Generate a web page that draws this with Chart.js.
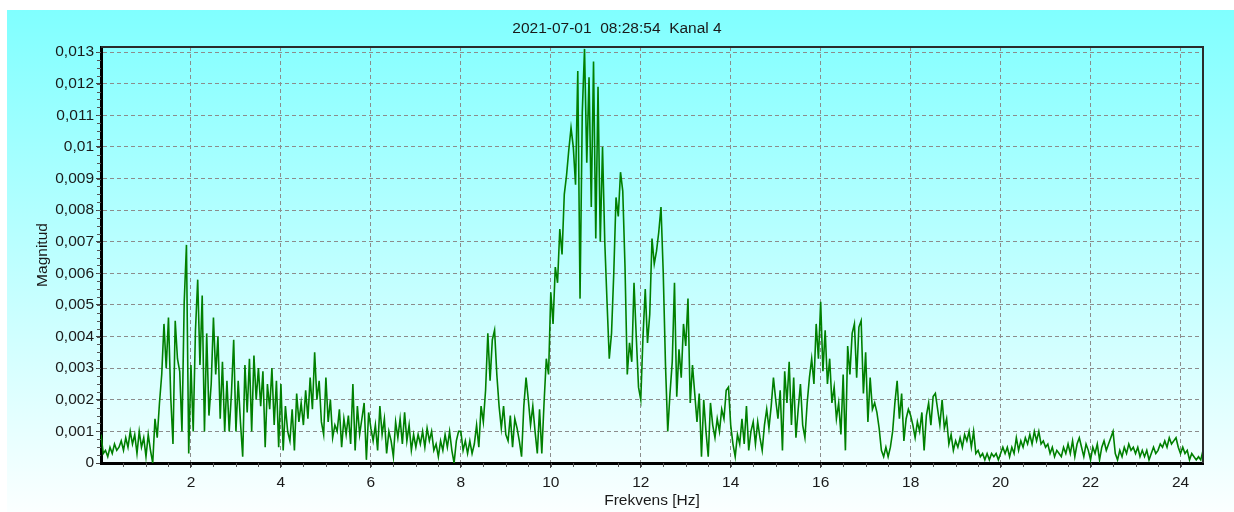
<!DOCTYPE html>
<html>
<head>
<meta charset="utf-8">
<script src="https://cdn.jsdelivr.net/npm/chart.js@4/dist/chart.umd.min.js"></script>
<style>html,body{margin:0;background:#fff}canvas{display:block}</style>
</head>
<body>
<canvas id="c" width="1234" height="512"></canvas>
<script>
// Spectrum plot, Kanal 4.
const title = '2021-07-01  08:28:54  Kanal 4';
const xTitle = 'Frekvens [Hz]';
const yTitle = 'Magnitud';
const startHz = 0, binHz = 0.05;
const xMax = 24.5, xStep = 2, xMinorStep = 0.5;
const yMax = 0.01316, yStep = 0.001, yMinorStep = 0.00025;

// magnitude per bin, one row per 0.5 Hz
const mag = [
  0.0009, 0.0003, 0.0004, 0.0002, 0.0005, 0.0003, 0.0006, 0.0004, 0.0005, 0.0007, // 0.0
  0.0004, 0.0008, 0.0005, 0.0010, 0.0006, 0.0009, 0.0003, 0.0010, 0.0005, 0.0008, // 0.5
  0.0002, 0.0009, 0.0004, 0.0000, 0.0014, 0.0008, 0.0019, 0.0028, 0.0044, 0.0030, // 1.0
  0.0046, 0.0021, 0.0006, 0.0045, 0.0033, 0.0029, 0.0010, 0.0051, 0.0069, 0.0003, // 1.5
  0.0031, 0.0010, 0.0042, 0.0058, 0.0031, 0.0053, 0.0010, 0.0041, 0.0015, 0.0025, // 2.0
  0.0046, 0.0028, 0.0040, 0.0014, 0.0032, 0.0010, 0.0026, 0.0010, 0.0022, 0.0039, // 2.5
  0.0010, 0.0026, 0.0013, 0.0002, 0.0031, 0.0016, 0.0033, 0.0010, 0.0034, 0.0020, // 3.0
  0.0030, 0.0018, 0.0029, 0.0005, 0.0025, 0.0017, 0.0030, 0.0012, 0.0026, 0.0005, // 3.5
  0.0025, 0.0004, 0.0018, 0.0010, 0.0007, 0.0017, 0.0004, 0.0022, 0.0013, 0.0019, // 4.0
  0.0012, 0.0023, 0.0014, 0.0027, 0.0017, 0.0035, 0.0020, 0.0026, 0.0013, 0.0009, // 4.5
  0.0027, 0.0013, 0.0020, 0.0008, 0.0012, 0.0010, 0.0017, 0.0005, 0.0014, 0.0009, // 5.0
  0.0015, 0.0006, 0.0025, 0.0004, 0.0018, 0.0009, 0.0014, 0.0019, 0.0001, 0.0016, // 5.5
  0.0011, 0.0007, 0.0012, 0.0004, 0.0018, 0.0009, 0.0014, 0.0003, 0.0010, 0.0007, // 6.0
  0.0002, 0.0013, 0.0008, 0.0014, 0.0006, 0.0016, 0.0007, 0.0012, 0.0004, 0.0009, // 6.5
  0.0005, 0.0009, 0.0006, 0.0010, 0.0005, 0.0011, 0.0007, 0.0010, 0.0004, 0.0006, // 7.0
  0.0002, 0.0007, 0.0004, 0.0009, 0.0005, 0.0010, 0.0004, 0.0000, 0.0007, 0.0010, // 7.5
  0.0010, 0.0004, 0.0007, 0.0003, 0.0007, 0.0003, 0.0006, 0.0012, 0.0005, 0.0018, // 8.0
  0.0013, 0.0023, 0.0041, 0.0026, 0.0039, 0.0042, 0.0028, 0.0018, 0.0011, 0.0018, // 8.5
  0.0009, 0.0007, 0.0015, 0.0005, 0.0014, 0.0011, 0.0007, 0.0002, 0.0018, 0.0027, // 9.0
  0.0020, 0.0012, 0.0018, 0.0010, 0.0003, 0.0017, 0.0003, 0.0019, 0.0033, 0.0028, // 9.5
  0.0054, 0.0044, 0.0062, 0.0057, 0.0074, 0.0066, 0.0085, 0.0091, 0.0099, 0.0106, // 10.0
  0.0100, 0.0088, 0.0124, 0.0052, 0.0111, 0.0131, 0.0095, 0.0122, 0.0081, 0.0127, // 10.5
  0.0071, 0.0119, 0.0070, 0.0100, 0.0070, 0.0051, 0.0033, 0.0041, 0.0060, 0.0084, // 11.0
  0.0078, 0.0092, 0.0086, 0.0062, 0.0028, 0.0038, 0.0032, 0.0057, 0.0040, 0.0024, // 11.5
  0.0020, 0.0040, 0.0055, 0.0038, 0.0047, 0.0071, 0.0063, 0.0067, 0.0073, 0.0081, // 12.0
  0.0060, 0.0031, 0.0010, 0.0022, 0.0032, 0.0057, 0.0021, 0.0036, 0.0027, 0.0044, // 12.5
  0.0037, 0.0052, 0.0019, 0.0031, 0.0022, 0.0013, 0.0022, 0.0002, 0.0020, 0.0010, // 13.0
  0.0002, 0.0019, 0.0012, 0.0008, 0.0014, 0.0010, 0.0017, 0.0014, 0.0023, 0.0024, // 13.5
  0.0012, 0.0006, 0.0002, 0.0009, 0.0006, 0.0014, 0.0006, 0.0018, 0.0004, 0.0010, // 14.0
  0.0013, 0.0006, 0.0013, 0.0008, 0.0004, 0.0012, 0.0017, 0.0011, 0.0018, 0.0027, // 14.5
  0.0020, 0.0014, 0.0023, 0.0004, 0.0029, 0.0019, 0.0032, 0.0012, 0.0027, 0.0008, // 15.0
  0.0017, 0.0025, 0.0012, 0.0008, 0.0019, 0.0027, 0.0033, 0.0025, 0.0044, 0.0033, // 15.5
  0.0051, 0.0029, 0.0042, 0.0025, 0.0033, 0.0019, 0.0024, 0.0014, 0.0019, 0.0009, // 16.0
  0.0028, 0.0004, 0.0037, 0.0028, 0.0041, 0.0044, 0.0027, 0.0043, 0.0045, 0.0022, // 16.5
  0.0035, 0.0013, 0.0027, 0.0017, 0.0019, 0.0016, 0.0011, 0.0004, 0.0002, 0.0005, // 17.0
  0.0002, 0.0005, 0.0010, 0.0019, 0.0026, 0.0014, 0.0022, 0.0007, 0.0014, 0.0017, // 17.5
  0.0015, 0.0012, 0.0008, 0.0013, 0.0010, 0.0016, 0.0004, 0.0015, 0.0019, 0.0012, // 18.0
  0.0021, 0.0022, 0.0017, 0.0012, 0.0020, 0.0011, 0.0014, 0.0006, 0.0009, 0.0004, // 18.5
  0.0007, 0.0005, 0.0008, 0.0005, 0.0009, 0.0007, 0.0010, 0.0005, 0.0010, 0.0003, // 19.0
  0.0004, 0.0002, 0.0003, 0.0001, 0.0003, 0.0001, 0.0003, 0.0002, 0.0003, 0.0001, // 19.5
  0.0003, 0.0005, 0.0003, 0.0005, 0.0002, 0.0005, 0.0003, 0.0008, 0.0004, 0.0007, // 20.0
  0.0005, 0.0008, 0.0006, 0.0009, 0.0006, 0.0010, 0.0007, 0.0010, 0.0006, 0.0007, // 20.5
  0.0005, 0.0006, 0.0003, 0.0005, 0.0002, 0.0004, 0.0003, 0.0002, 0.0005, 0.0003, // 21.0
  0.0006, 0.0003, 0.0007, 0.0002, 0.0006, 0.0008, 0.0005, 0.0002, 0.0006, 0.0004, // 21.5
  0.0001, 0.0005, 0.0003, 0.0006, 0.0001, 0.0005, 0.0007, 0.0004, 0.0006, 0.0008, // 22.0
  0.0010, 0.0003, 0.0001, 0.0004, 0.0002, 0.0005, 0.0003, 0.0006, 0.0004, 0.0005, // 22.5
  0.0003, 0.0005, 0.0002, 0.0004, 0.0002, 0.0004, 0.0001, 0.0003, 0.0005, 0.0003, // 23.0
  0.0004, 0.0006, 0.0005, 0.0007, 0.0005, 0.0008, 0.0006, 0.0007, 0.0008, 0.0005, // 23.5
  0.0003, 0.0005, 0.0003, 0.0004, 0.0001, 0.0003, 0.0002, 0.0001, 0.0002, 0.0001, 0.0004 // 24.0
];

const FONT = { family: '"Liberation Sans", Arial, sans-serif', size: 15.5 };
const INK = '#1a1a1a';

// gradient backdrop, title, top/right frame and minor ticks
const frame = {
  id: 'frame',
  beforeDraw(c) {
    const { ctx, width, height } = c;
    ctx.save();
    ctx.fillStyle = '#fff'; ctx.fillRect(0, 0, width, height);
    const g = ctx.createLinearGradient(0, 10, 0, height);
    g.addColorStop(0, '#80ffff'); g.addColorStop(1, '#fbffff');
    ctx.fillStyle = g; ctx.fillRect(7, 10, width - 7, height - 10);
    ctx.restore();
  },
  afterDraw(c) {
    const { ctx, chartArea: a, scales: { x, y } } = c;
    ctx.save();
    ctx.font = `${FONT.size}px ${FONT.family}`;
    ctx.fillStyle = INK; ctx.textAlign = 'center'; ctx.textBaseline = 'middle';
    ctx.fillText(title, c.width / 2, 29);
    ctx.strokeStyle = '#2b2b2b'; ctx.lineWidth = 2;
    ctx.beginPath(); ctx.moveTo(a.left, a.top); ctx.lineTo(a.right, a.top); ctx.lineTo(a.right, a.bottom); ctx.stroke();
    ctx.strokeStyle = '#555'; ctx.lineWidth = 1;
    ctx.beginPath();
    for (let v = xMinorStep; v < xMax; v += xMinorStep) {
      const px = Math.round(x.getPixelForValue(v)) + 0.5;
      ctx.moveTo(px, a.bottom); ctx.lineTo(px, a.bottom + 4);
    }
    for (let v = yMinorStep; v < yMax; v += yMinorStep) {
      const py = Math.round(y.getPixelForValue(v)) + 0.5;
      ctx.moveTo(a.left - 4, py); ctx.lineTo(a.left, py);
    }
    ctx.stroke();
    ctx.restore();
  }
};

const grid = { color: '#8c8c8c', tickColor: '#444', tickLength: 5, tickBorderDash: [] };
const border = { color: '#000', width: 3, dash: [4, 3] };

new Chart(document.getElementById('c'), {
  type: 'line',
  data: {
    datasets: [{
      data: mag.map((v, i) => ({ x: startHz + i * binHz, y: v })),
      borderColor: '#008000', borderWidth: 1.6, pointRadius: 0, tension: 0, fill: false
    }]
  },
  options: {
    responsive: false, animation: false,
    layout: { padding: { left: 7, top: 47, right: 31, bottom: 0 } },
    plugins: { legend: { display: false }, tooltip: { enabled: false } },
    scales: {
      x: {
        type: 'linear', min: 0, max: xMax,
        afterFit: (s) => { s.height = 49; },
        afterBuildTicks: (s) => { s.ticks = s.ticks.filter((t) => t.value > 0); },
        ticks: { stepSize: xStep, includeBounds: false, autoSkip: false, maxRotation: 0, padding: 5, color: INK, font: FONT },
        grid, border,
        title: { display: true, text: xTitle, color: INK, font: FONT, padding: { top: 0, bottom: 2 } }
      },
      y: {
        min: 0, max: yMax,
        afterFit: (s) => { s.width = 94; },
        ticks: {
          stepSize: yStep, includeBounds: false, padding: 2, color: INK, font: FONT,
          callback: (v) => String(+v.toFixed(3)).replace('.', ',')
        },
        grid, border,
        title: { display: true, text: yTitle, color: INK, font: FONT, padding: { top: 26, bottom: 0 } }
      }
    }
  },
  plugins: [frame]
});
</script>
</body>
</html>
